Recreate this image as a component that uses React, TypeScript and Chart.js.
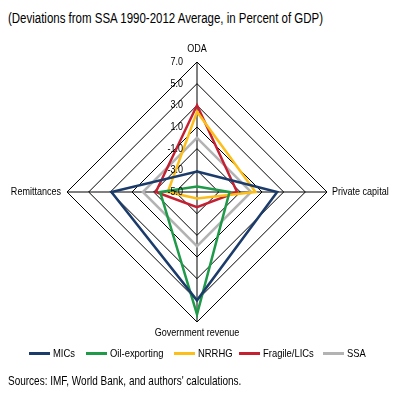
import React, { useEffect, useRef } from "react";
import { Chart, registerables } from "chart.js";

Chart.register(...registerables);

const axisLabels = ["ODA", "Private capital", "Government revenue", "Remittances"];
const mics = [-3.1, 2.4, 5.0, 2.9];
const oilExporting = [-4.5, -2.0, 6.3, -1.6];
const nrrhg = [2.4, 0.4, -4.4, -2.3];
const fragileLics = [3.0, -1.3, -3.6, -1.2];
const ssa = [0, 0, 0, 0];
const tickValues = [-5, -3, -1, 1, 3, 5, 7];

const seriesNames = ["MICs", "Oil-exporting", "NRRHG", "Fragile/LICs", "SSA"];
const seriesColors = ["#1B3C6B", "#1E9A48", "#FDBE1A", "#C42032", "#B3B3B3"];

const FONT = "'Liberation Sans', Arial, sans-serif";
const SQUEEZE = 0.82;

function narrowText(ctx: CanvasRenderingContext2D, text: string, x: number, y: number, align: "left" | "right" | "center") {
  ctx.save();
  ctx.translate(x, y);
  ctx.scale(SQUEEZE, 1);
  ctx.textAlign = align;
  ctx.textBaseline = "middle";
  ctx.fillText(text, 0, 0);
  ctx.restore();
}

const labelPlugin = {
  id: "customLabels",
  afterDatasetsDraw(chart: any) {
    const scale = chart.scales.r;
    const ctx = chart.ctx as CanvasRenderingContext2D;
    ctx.save();
    ctx.fillStyle = "#000";
    ctx.font = `11px ${FONT}`;
    tickValues.forEach((v) => {
      const d = scale.getDistanceFromCenterForValue(v);
      narrowText(ctx, v.toFixed(1), scale.xCenter - 14, scale.yCenter - d, "right");
    });
    ctx.font = `11px ${FONT}`;
    const R = scale.drawingArea;
    axisLabels.forEach((lab, i) => {
      const p = scale.getPointPosition(i, R);
      if (i === 0) narrowText(ctx, lab, p.x, p.y - 13, "center");
      else if (i === 1) narrowText(ctx, lab, p.x + 5, p.y, "left");
      else if (i === 2) narrowText(ctx, lab, p.x, p.y + 11, "center");
      else narrowText(ctx, lab, p.x - 6, p.y, "right");
    });
    ctx.restore();
  },
};

const textStyle: React.CSSProperties = {
  position: "absolute",
  whiteSpace: "nowrap",
  color: "#000",
  transform: `scaleX(${SQUEEZE})`,
  transformOrigin: "left center",
};

export default function App() {
  const ref = useRef<HTMLCanvasElement | null>(null);

  useEffect(() => {
    if (!ref.current) return;
    const series = [mics, oilExporting, nrrhg, fragileLics, ssa];
    const chart = new Chart(ref.current, {
      type: "radar",
      data: {
        labels: axisLabels,
        datasets: series.map((d, i) => ({
          label: seriesNames[i],
          data: d,
          borderColor: seriesColors[i],
          backgroundColor: seriesColors[i],
          borderWidth: 2.5,
          pointRadius: 0,
          pointHoverRadius: 0,
          fill: false,
          tension: 0,
        })),
      },
      options: {
        responsive: false,
        animation: false,
        layout: { padding: { left: 67, top: 62, right: 71, bottom: 87 } },
        plugins: {
          legend: { display: false },
          tooltip: { enabled: false },
        },
        scales: {
          r: {
            min: -5,
            max: 7,
            ticks: { stepSize: 2, display: false },
            grid: { circular: false, color: "#000", lineWidth: 1 },
            angleLines: { display: true, color: "#000", lineWidth: 1 },
            pointLabels: { display: false },
          },
        },
      },
      plugins: [labelPlugin],
    });
    return () => chart.destroy();
  }, []);

  const legendX = [29, 86, 174, 239, 323];

  return (
    <div style={{ position: "fixed", left: 0, top: 0, width: 398, height: 409, background: "#fff", fontFamily: FONT }}>
      <div style={{ ...textStyle, left: 8, top: 10, fontSize: 14, lineHeight: "16px" }}>
        (Deviations from SSA 1990-2012 Average, in Percent of GDP)
      </div>
      <canvas ref={ref} width={398} height={409} style={{ position: "absolute", left: 0, top: 0, width: 398, height: 409 }} />
      {seriesNames.map((n, i) => (
        <React.Fragment key={n}>
          <div style={{ position: "absolute", left: legendX[i], top: 352, width: 21, height: 3, background: seriesColors[i] }} />
          <div style={{ ...textStyle, left: legendX[i] + 24, top: 346, fontSize: 11.5, lineHeight: "14px" }}>{n}</div>
        </React.Fragment>
      ))}
      <div style={{ ...textStyle, left: 8, top: 373, fontSize: 12.2, lineHeight: "16px" }}>
        Sources: IMF, World Bank, and authors' calculations.
      </div>
    </div>
  );
}
